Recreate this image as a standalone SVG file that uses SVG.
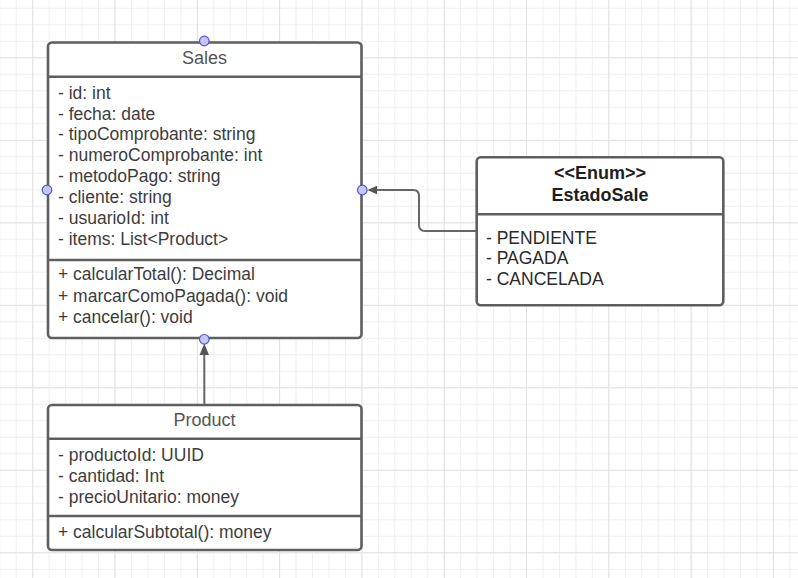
<svg xmlns="http://www.w3.org/2000/svg" width="798" height="578" viewBox="0 0 798 578">
  <defs>
    <pattern id="minor" patternUnits="userSpaceOnUse" x="-0.7" y="7.8" width="16.46" height="16.5">
      <rect x="0" y="0" width="1" height="16.5" fill="#efefef"/>
      <rect x="0" y="0" width="16.46" height="1" fill="#efefef"/>
    </pattern>
    <pattern id="major" patternUnits="userSpaceOnUse" x="32.2" y="57.3" width="82.3" height="82.5">
      <rect x="0" y="0" width="1" height="82.5" fill="#e2e2e2"/>
      <rect x="0" y="0" width="82.3" height="1" fill="#e2e2e2"/>
    </pattern>
    <style>
      .box { fill: #ffffff; stroke: #5f5f5f; stroke-width: 2.6; }
      .div { stroke: #5f5f5f; stroke-width: 2.6; fill: none; }
      .title { font-family: "Liberation Sans", Arial, sans-serif; font-size: 18px; fill: #555555; text-anchor: middle; }
      .etitle { font-family: "Liberation Sans", Arial, sans-serif; font-size: 18px; font-weight: bold; fill: #1e1e1e; text-anchor: middle; }
      .txt { font-family: "Liberation Sans", Arial, sans-serif; font-size: 17.5px; fill: #3d3d3d; }
      .etxt { font-family: "Liberation Sans", Arial, sans-serif; font-size: 17.5px; fill: #2a2a2a; }
      .conn { stroke: #666666; stroke-width: 2; fill: none; }
      .head { fill: #555555; stroke: none; }
      .dot { fill: #c6c6fb; stroke: #5252d8; stroke-width: 1.2; }
    </style>
  </defs>

  <rect x="0" y="0" width="798" height="578" fill="#ffffff"/>
  <rect x="0" y="0" width="798" height="578" fill="url(#minor)"/>
  <rect x="0" y="0" width="798" height="578" fill="url(#major)"/>

  <g id="connectors">
    <path class="conn" d="M476.7 231 H425 Q419 231 419 225 V196 Q419 190 413 190 H375"/>
    <polygon class="head" points="367.5,190 377,185.8 377,194.2"/>
    <path class="conn" d="M204.3 405 V354"/>
    <polygon class="head" points="204.3,343.5 199.6,355 209,355"/>
  </g>

  <g id="node-sales">
    <rect class="box" x="48" y="42.5" width="313.5" height="295.5" rx="4" ry="4"/>
    <line class="div" x1="48" y1="76.7" x2="361.5" y2="76.7"/>
    <line class="div" x1="48" y1="260" x2="361.5" y2="260"/>
    <text class="title" x="204.5" y="63.5">Sales</text>
    <text class="txt" x="58" y="98.5">- id: int</text>
    <text class="txt" x="58" y="119.5">- fecha: date</text>
    <text class="txt" x="58" y="140.4">- tipoComprobante: string</text>
    <text class="txt" x="58" y="161.3">- numeroComprobante: int</text>
    <text class="txt" x="58" y="182.3">- metodoPago: string</text>
    <text class="txt" x="58" y="203.3">- cliente: string</text>
    <text class="txt" x="58" y="224.2">- usuarioId: int</text>
    <text class="txt" x="58" y="245.2">- items: List&lt;Product&gt;</text>
    <text class="txt" x="58" y="280">+ calcularTotal(): Decimal</text>
    <text class="txt" x="58" y="301.5">+ marcarComoPagada(): void</text>
    <text class="txt" x="58" y="323">+ cancelar(): void</text>
    <circle class="dot" cx="204.3" cy="41" r="4.8"/>
    <circle class="dot" cx="47" cy="190" r="4.8"/>
    <circle class="dot" cx="362.3" cy="190" r="4.8"/>
    <circle class="dot" cx="204.3" cy="339.3" r="4.8"/>
  </g>

  <g id="node-estadosale">
    <rect class="box" x="476.7" y="157.3" width="246.6" height="148" rx="4" ry="4"/>
    <line class="div" x1="476.7" y1="214.3" x2="723.3" y2="214.3"/>
    <text class="etitle" x="600" y="179">&lt;&lt;Enum&gt;&gt;</text>
    <text class="etitle" x="600" y="201">EstadoSale</text>
    <text class="etxt" x="486" y="243.5">- PENDIENTE</text>
    <text class="etxt" x="486" y="264.3">- PAGADA</text>
    <text class="etxt" x="486" y="285.2">- CANCELADA</text>
  </g>

  <g id="node-product">
    <rect class="box" x="48" y="405" width="313.5" height="145" rx="4" ry="4"/>
    <line class="div" x1="48" y1="438.7" x2="361.5" y2="438.7"/>
    <line class="div" x1="48" y1="516" x2="361.5" y2="516"/>
    <text class="title" x="204.5" y="426">Product</text>
    <text class="txt" x="58" y="460.7">- productoId: UUID</text>
    <text class="txt" x="58" y="481.6">- cantidad: Int</text>
    <text class="txt" x="58" y="502.6">- precioUnitario: money</text>
    <text class="txt" x="58" y="537.5">+ calcularSubtotal(): money</text>
  </g>
</svg>
